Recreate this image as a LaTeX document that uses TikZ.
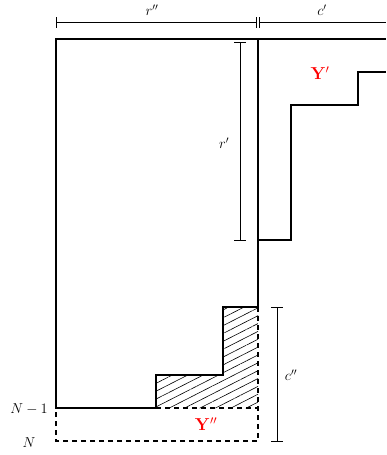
\documentclass[tikz,border=0pt]{standalone}
\usetikzlibrary{patterns.meta}
\begin{document}
\begin{tikzpicture}[x=1pt,y=-1pt,
  thickline/.style={line width=1.3pt},
  dimline/.style={line width=0.6pt},
  dashline/.style={line width=1.3pt, dash pattern=on 5pt off 4pt},
  lbl/.style={font=\fontsize{14}{16}\selectfont, inner sep=1pt},
  ylbl/.style={text=red, font=\fontsize{18}{20}\selectfont, inner sep=1pt}]
\useasboundingbox (0,0) rectangle (386,455);
% hatched region
\fill[pattern={Lines[angle=27,distance=7pt,line width=0.6pt]}]
  (156,408) -- (156,375) -- (223,375) -- (223,307) -- (258,307) -- (258,408) -- cycle;
% main outline
\draw[thickline] (258,307) -- (258,39) -- (56,39) -- (56,408) -- (156,408) -- (156,375) -- (223,375) -- (223,307) -- (258,307);
\draw[thickline] (258,39) -- (386,39);
% Y' staircase
\draw[thickline] (258,240) -- (291,240) -- (291,105) -- (358,105) -- (358,72) -- (386,72);
% dashed parts
\draw[dashline] (156,408) -- (258,408);
\draw[dashline] (258,307) -- (258,441) -- (56,441) -- (56,408);
% top dimension
\draw[dimline] (56,22) -- (256,22);
\draw[dimline] (259,22) -- (386,22);
\draw[dimline] (56,17) -- (56,28);
\draw[dimline] (256,17) -- (256,28);
\draw[dimline] (259,17) -- (259,28);
\node[lbl] (rpp) at (152,10) {$r''$};
\node[lbl] (cp) at (322,10) {$c'$};
% r' dimension
\draw[dimline] (240,42) -- (240,240);
\draw[dimline] (234,42) -- (246,42);
\draw[dimline] (234,240) -- (246,240);
\node[lbl] (rp) at (224,143) {$r'$};
% c'' dimension
\draw[dimline] (277,307) -- (277,441);
\draw[dimline] (271,307) -- (283,307);
\draw[dimline] (271,441) -- (283,441);
\node[lbl] (cpp) at (291,375) {$c''$};
% labels
\node[ylbl] (Yp) at (320,73) {$\mathbf{Y}'$};
\node[ylbl] (Ypp) at (206,424) {$\mathbf{Y}''$};
\node[lbl] (N1) at (29,409) {$N-1$};
\node[lbl] (N) at (29,443) {$N$};
\end{tikzpicture}
\end{document}
